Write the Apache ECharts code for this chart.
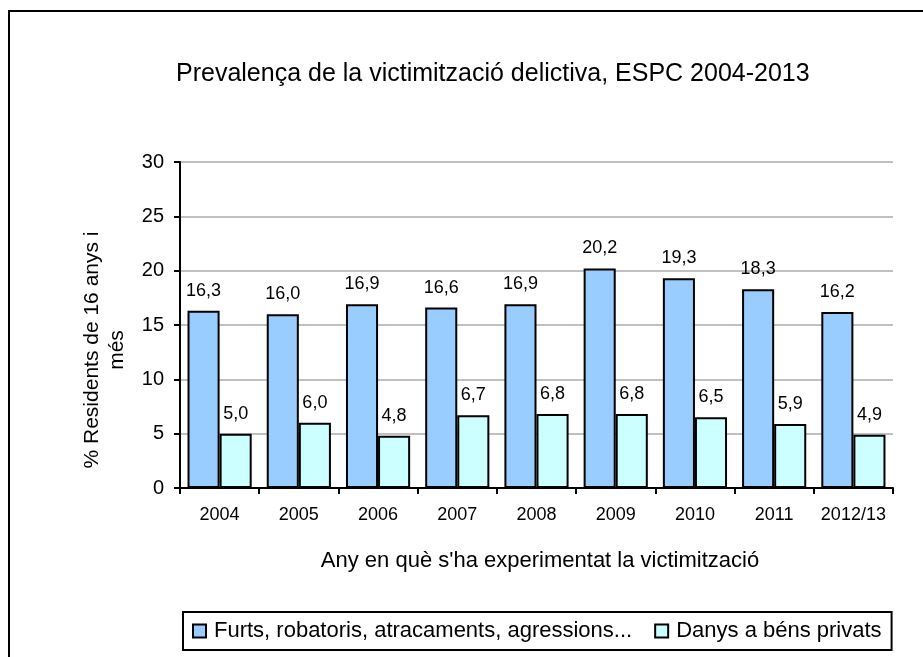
<!DOCTYPE html>
<html>
<head>
<meta charset="utf-8">
<script src="https://cdn.jsdelivr.net/npm/echarts@6/dist/echarts.min.js"></script>
<style>
  html, body { margin: 0; padding: 0; background: #fff; }
  #chart { width: 923px; height: 657px; }
</style>
</head>
<body>
<div id="chart"></div>
<script>
// dades del gràfic
var years = ['2004', '2005', '2006', '2007', '2008', '2009', '2010', '2011', '2012/13'];
var furts = [16.3, 16.0, 16.9, 16.6, 16.9, 20.2, 19.3, 18.3, 16.2];
var danys = [5.0, 6.0, 4.8, 6.7, 6.8, 6.8, 6.5, 5.9, 4.9];
var seriesNames = ['Furts, robatoris, atracaments, agressions...', 'Danys a béns privats'];

var font = 'Liberation Sans, Arial, sans-serif';
var chart = echarts.init(document.getElementById('chart'));

function labelFmt(p) {
  return p.value.toFixed(1).replace('.', ',');
}

var labelStyle = {
  show: true,
  position: 'top',
  distance: 11,
  fontSize: 18,
  fontFamily: font,
  color: '#000',
  formatter: labelFmt
};

var option = {
  backgroundColor: '#fff',
  animation: false,
  title: {
    text: 'Prevalença de la victimització delictiva, ESPC 2004-2013',
    left: 176,
    top: 62,
    padding: 0,
    textStyle: { fontFamily: font, fontSize: 25, fontWeight: 'normal', color: '#000' }
  },
  graphic: [{
    type: 'rect',
    shape: { x: 9, y: 11, width: 1000, height: 1000 },
    style: { fill: 'none', stroke: '#000', lineWidth: 2 },
    silent: true
  }],
  legend: {
    data: seriesNames,
    left: 183,
    top: 612,
    orient: 'horizontal',
    borderColor: '#000',
    borderWidth: 2,
    padding: [8, 10, 8, 9],
    itemWidth: 13,
    itemHeight: 13,
    itemGap: 22,
    icon: 'rect',
    textStyle: { fontFamily: font, fontSize: 22, color: '#000', padding: [0, 0, 0, 3] }
  },
  grid: {
    left: 180,
    right: 30,
    top: 162,
    bottom: 169
  },
  xAxis: {
    type: 'category',
    data: years,
    axisLine: { lineStyle: { color: '#000', width: 2 } },
    axisTick: { show: true, length: 6, lineStyle: { color: '#000', width: 2 } },
    axisLabel: { interval: 0, fontFamily: font, fontSize: 18, color: '#000', margin: 18 },
    name: "Any en què s'ha experimentat la victimització",
    nameLocation: 'middle',
    nameGap: 62,
    nameTextStyle: { fontFamily: font, fontSize: 22, color: '#000', padding: [0, 0, 0, 7] }
  },
  yAxis: {
    type: 'value',
    min: 0,
    max: 30,
    interval: 5,
    axisLine: { show: true, lineStyle: { color: '#000', width: 2 } },
    axisTick: { show: true, length: 6, lineStyle: { color: '#000', width: 2 } },
    axisLabel: { fontFamily: font, fontSize: 20, color: '#000', margin: 16 },
    splitLine: { lineStyle: { color: '#c0c0c0', width: 2 } },
    name: '% Residents de 16 anys i\nmés',
    nameLocation: 'middle',
    nameRotate: 90,
    nameGap: 50,
    nameTextStyle: { fontFamily: font, fontSize: 21, color: '#000', lineHeight: 25, align: 'center', padding: [0, 50, 0, 0] }
  },
  series: [
    {
      name: seriesNames[0],
      type: 'bar',
      data: furts,
      barGap: '0%',
      barCategoryGap: '19%',
      itemStyle: { color: '#99ccff', borderColor: '#000', borderWidth: 2 },
      label: labelStyle
    },
    {
      name: seriesNames[1],
      type: 'bar',
      data: danys,
      barGap: '0%',
      barCategoryGap: '19%',
      itemStyle: { color: '#ccffff', borderColor: '#000', borderWidth: 2 },
      label: labelStyle
    }
  ]
};

chart.setOption(option);
</script>
</body>
</html>
